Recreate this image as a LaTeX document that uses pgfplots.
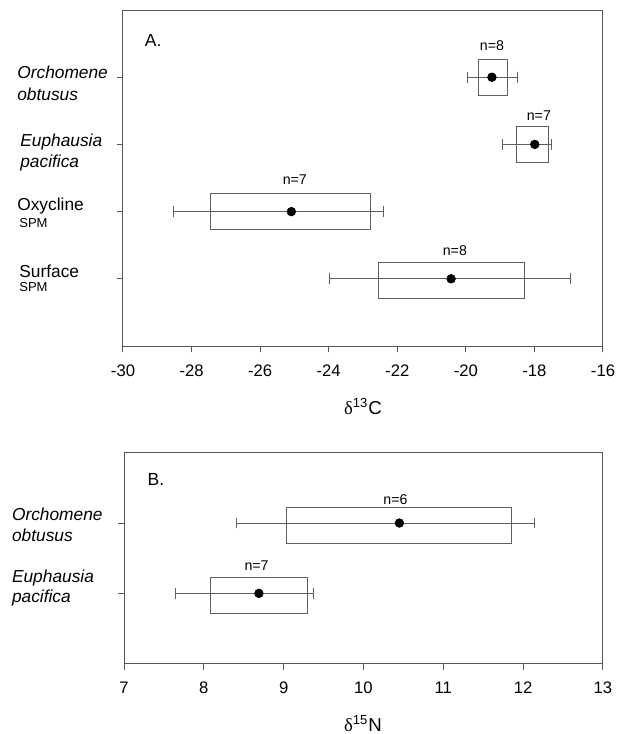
\documentclass[border=0pt]{standalone}
\usepackage{fontspec}
\setmainfont{Liberation Sans}
\newfontfamily\greekfont{Liberation Serif}
\usepackage{pgfplots}
\pgfplotsset{compat=1.18}

\definecolor{axisgray}{RGB}{85,85,85}
\definecolor{boxgray}{RGB}{95,95,95}

\pgfplotsset{
  panel/.style={
    scale only axis, clip=false,
    axis line style={axisgray, line width=0.6pt},
    xtick pos=bottom, ytick pos=left, tick align=outside,
    major tick length=3.6pt, tick style={axisgray, line width=0.6pt},
    yticklabels={},
    ticklabel style={font=\fontsize{10}{12}\selectfont},
    xticklabel style={yshift=-4pt},
    /pgf/number format/assume math mode=true,
  },
  meanpts/.style={only marks, mark=*, mark size=2.6pt, black,
    error bars/.cd, x dir=both, x explicit,
    error bar style={boxgray, line width=0.6pt},
    error mark options={rotate=90, boxgray, mark size=3.2pt, line width=0.6pt}},
  boxline/.style={boxgray, line width=0.6pt, mark=none},
}
\tikzset{nlab/.style={anchor=base, font=\fontsize{8.5}{10}\selectfont}}

\begin{document}
\begin{tikzpicture}[x=0.6pt, y=-0.6pt]
\useasboundingbox (0,0) rectangle (624,734);

% ---- panel A: d13C ----
\begin{axis}[panel, at={(73.8pt,-207.6pt)}, anchor=south west,
    width=288pt, height=201.6pt,
    xmin=-30, xmax=-16, ymin=0, ymax=5,
    xtick={-30,-28,...,-16}, ytick={1,2,3,4}]
  % boxes
  \addplot[boxline] coordinates {(-19.63,3.73) (-18.78,3.73) (-18.78,4.27) (-19.63,4.27)} -- cycle;
  \addplot[boxline] coordinates {(-18.52,2.73) (-17.58,2.73) (-17.58,3.26) (-18.52,3.26)} -- cycle;
  \addplot[boxline] coordinates {(-27.44,1.73) (-22.78,1.73) (-22.78,2.27) (-27.44,2.27)} -- cycle;
  \addplot[boxline] coordinates {(-22.55,0.71) (-18.29,0.71) (-18.29,1.25) (-22.55,1.25)} -- cycle;
  % means with ranges
  \addplot[meanpts] coordinates {
    (-19.24,4) += (0.75,0) -= (0.70,0)
    (-17.99,3) += (0.49,0) -= (0.93,0)
    (-25.09,2) += (2.69,0) -= (3.44,0)
    (-20.43,1) += (3.48,0) -= (3.55,0)
  };
  \node[nlab] at (axis cs:-19.24,4.40) {n=8};
  \node[nlab] at (axis cs:-17.87,3.36) {n=7};
  \node[nlab] at (axis cs:-24.99,2.40) {n=7};
  \node[nlab] at (axis cs:-20.32,1.35) {n=8};
\end{axis}

% ---- panel B: d15N ----
\begin{axis}[panel, at={(74.4pt,-398.22pt)}, anchor=south west,
    width=287.4pt, height=126.6pt,
    xmin=7, xmax=13, ymin=0, ymax=3,
    xtick={7,...,13}, ytick={1,2}]
  \addplot[boxline] coordinates {(9.04,1.71) (11.86,1.71) (11.86,2.22) (9.04,2.22)} -- cycle;
  \addplot[boxline] coordinates {(8.08,0.71) (9.30,0.71) (9.30,1.22) (8.08,1.22)} -- cycle;
  \addplot[meanpts] coordinates {
    (10.45,2) += (1.69,0) -= (2.04,0)
    (8.69,1)  += (0.68,0) -= (1.04,0)
  };
  \node[nlab] at (axis cs:10.40,2.27) {n=6};
  \node[nlab] at (axis cs:8.66,1.32) {n=7};
\end{axis}

% panel letters
\node[anchor=base west, font=\fontsize{10.5}{12}\selectfont] at (139,46.7) {A.};
\node[anchor=base west, font=\fontsize{10.5}{12}\selectfont] at (141.7,485) {B.};

% category labels
\begin{scope}[every node/.style={anchor=base west, inner sep=0pt, font=\fontsize{10.4}{12}\itshape}]
  \node at (17,78.3) {Orchomene};
  \node at (17,100) {obtusus};
  \node at (20,146.7) {Euphausia};
  \node at (20,167.3) {pacifica};
  \node at (11.7,520) {Orchomene};
  \node at (11.7,541) {obtusus};
  \node at (11.7,582) {Euphausia};
  \node at (11.7,602) {pacifica};
\end{scope}
\begin{scope}[every node/.style={anchor=base west, inner sep=0pt}]
  \node[font=\fontsize{10.4}{12}\selectfont] at (17,210) {Oxycline};
  \node[font=\fontsize{7.8}{9}\selectfont] at (19,227.3) {SPM};
  \node[font=\fontsize{10.4}{12}\selectfont] at (19,277.3) {Surface};
  \node[font=\fontsize{7.8}{9}\selectfont] at (19,291.7) {SPM};
\end{scope}

% axis titles
\node[anchor=base, font=\fontsize{11.2}{13}\selectfont] at (363,414) {{\greekfont δ}\textsuperscript{13}C};
\node[anchor=base, font=\fontsize{11.2}{13}\selectfont] at (363,731) {{\greekfont δ}\textsuperscript{15}N};
\end{tikzpicture}
\end{document}
